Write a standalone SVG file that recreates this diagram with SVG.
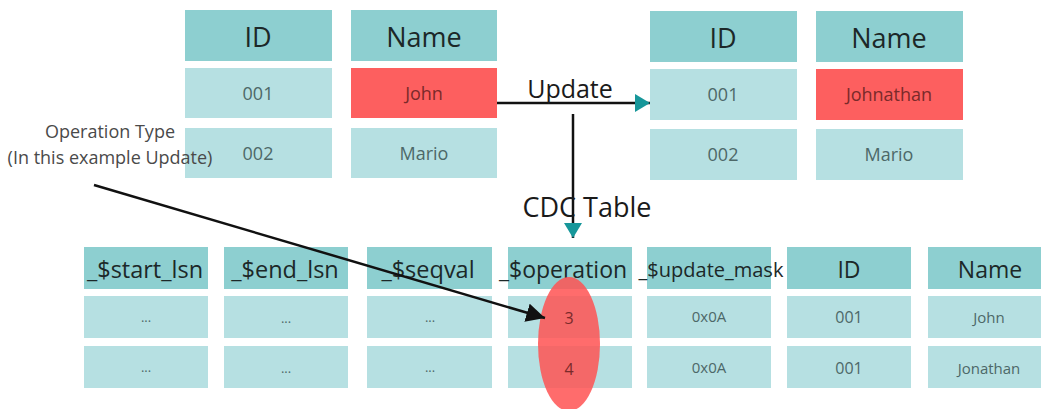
<svg xmlns="http://www.w3.org/2000/svg" width="1041" height="409" viewBox="0 0 1041 409">
  <style>
    .hd { fill: #8dcfd0; }
    .cell { fill: #b6e0e2; }
    .hot { fill: #fd5f5f; }
    .ht { font-family: "Open Sans", "Liberation Sans", sans-serif; fill: #1c2828; text-anchor: middle; }
    .ct { font-family: "Open Sans", "Liberation Sans", sans-serif; fill: #4d6868; text-anchor: middle; }
    .red { fill: #7a2a2a; }
    .lbl { font-family: "Open Sans", "Liberation Sans", sans-serif; fill: #1a1a1a; text-anchor: middle; }
    .note { font-family: "Open Sans", "Liberation Sans", sans-serif; fill: #4a4a4a; text-anchor: middle; font-size: 18px; }
    .line { stroke: #111; stroke-width: 2.5; fill: none; }
  </style>
  <defs>
    <marker id="tealHead" viewBox="0 0 10 12" refX="10" refY="6" markerWidth="6" markerHeight="7.2" orient="auto" markerUnits="strokeWidth">
      <path d="M0,0 L10,6 L0,12 Z" fill="#17979a"/>
    </marker>
    <marker id="blackHead" viewBox="0 0 10 10" refX="10" refY="5" markerWidth="7.5" markerHeight="7.5" orient="auto" markerUnits="strokeWidth">
      <path d="M0,0 L10,5 L0,10 Z" fill="#111"/>
    </marker>
  </defs>
  <rect width="1041" height="409" fill="#ffffff"/>

  <!-- source table -->
  <g id="source-table">
    <rect class="hd" x="185" y="10" width="147" height="51"/>
    <rect class="hd" x="351" y="10" width="146" height="51"/>
    <rect class="cell" x="185" y="68" width="147" height="50"/>
    <rect class="hot" x="351" y="68" width="146" height="50"/>
    <rect class="cell" x="185" y="128" width="147" height="50"/>
    <rect class="cell" x="351" y="128" width="146" height="50"/>
    <text class="ht" x="258" y="47" font-size="27">ID</text>
    <text class="ht" x="424" y="47" font-size="27">Name</text>
    <text class="ct" x="258" y="100" font-size="18">001</text>
    <text class="ct red" x="424" y="100" font-size="18">John</text>
    <text class="ct" x="258" y="160" font-size="18">002</text>
    <text class="ct" x="424" y="160" font-size="18">Mario</text>
  </g>

  <!-- updated table -->
  <g id="target-table">
    <rect class="hd" x="650" y="11" width="147" height="51"/>
    <rect class="hd" x="816" y="11" width="147" height="51"/>
    <rect class="cell" x="650" y="69" width="147" height="51"/>
    <rect class="hot" x="816" y="69" width="147" height="51"/>
    <rect class="cell" x="650" y="129" width="147" height="51"/>
    <rect class="cell" x="816" y="129" width="147" height="51"/>
    <text class="ht" x="723" y="48" font-size="27">ID</text>
    <text class="ht" x="889" y="48" font-size="27">Name</text>
    <text class="ct" x="723" y="101" font-size="18">001</text>
    <text class="ct red" x="889" y="101" font-size="18">Johnathan</text>
    <text class="ct" x="723" y="161" font-size="18">002</text>
    <text class="ct" x="889" y="161" font-size="18">Mario</text>
  </g>

  <!-- CDC change table -->
  <g id="cdc-table">
    <g id="col-start-lsn">
      <rect class="hd" x="84" y="247" width="124" height="42"/>
      <rect class="cell" x="84" y="296" width="124" height="42"/>
      <rect class="cell" x="84" y="346" width="124" height="42"/>
      <text class="ht" x="145" y="278" font-size="23.5">_$start_lsn</text>
      <text class="ct" x="146" y="322" font-size="13">...</text>
      <text class="ct" x="146" y="372" font-size="13">...</text>
    </g>
    <g id="col-end-lsn">
      <rect class="hd" x="224" y="247" width="124" height="42"/>
      <rect class="cell" x="224" y="296" width="124" height="42"/>
      <rect class="cell" x="224" y="346" width="124" height="42"/>
      <text class="ht" x="285" y="278" font-size="23.5">_$end_lsn</text>
      <text class="ct" x="286" y="323" font-size="13">...</text>
      <text class="ct" x="286" y="373" font-size="13">...</text>
    </g>
    <g id="col-seqval">
      <rect class="hd" x="367" y="247" width="125" height="42"/>
      <rect class="cell" x="367" y="296" width="125" height="42"/>
      <rect class="cell" x="367" y="346" width="125" height="42"/>
      <text class="ht" x="428" y="278" font-size="23.5">_$seqval</text>
      <text class="ct" x="430" y="322" font-size="13">...</text>
      <text class="ct" x="430" y="372" font-size="13">...</text>
    </g>
    <g id="col-operation">
      <rect class="hd" x="508" y="247" width="124" height="42"/>
      <rect class="cell" x="508" y="296" width="124" height="42"/>
      <rect class="cell" x="508" y="346" width="124" height="42"/>
      <text class="ht" x="563" y="278" font-size="23">_$operation</text>
    </g>
    <g id="col-update-mask">
      <rect class="hd" x="647" y="247" width="124" height="42"/>
      <rect class="cell" x="647" y="296" width="124" height="42"/>
      <rect class="cell" x="647" y="346" width="124" height="42"/>
      <text class="ht" x="711" y="277" font-size="20">_$update_mask</text>
      <text class="ct" x="709" y="322" font-size="15">0x0A</text>
      <text class="ct" x="709" y="373" font-size="15">0x0A</text>
    </g>
    <g id="col-id">
      <rect class="hd" x="787" y="247" width="124" height="42"/>
      <rect class="cell" x="787" y="296" width="124" height="42"/>
      <rect class="cell" x="787" y="346" width="124" height="42"/>
      <text class="ht" x="849" y="278" font-size="23">ID</text>
      <text class="ct" x="849" y="323" font-size="16">001</text>
      <text class="ct" x="849" y="374" font-size="16">001</text>
    </g>
    <g id="col-name">
      <rect class="hd" x="928" y="247" width="124" height="42"/>
      <rect class="cell" x="928" y="296" width="124" height="42"/>
      <rect class="cell" x="928" y="346" width="124" height="42"/>
      <text class="ht" x="990" y="278" font-size="23">Name</text>
      <text class="ct" x="989" y="323" font-size="15">John</text>
      <text class="ct" x="989" y="374" font-size="15">Jonathan</text>
    </g>
  </g>

  <!-- highlight over the operation values -->
  <g id="operation-highlight">
    <ellipse cx="569" cy="344" rx="31" ry="67" fill="#ff5252" fill-opacity="0.85"/>
    <text class="ct red" x="569" y="324" font-size="16">3</text>
    <text class="ct red" x="569" y="375" font-size="16">4</text>
  </g>

  <!-- annotation -->
  <g id="operation-note">
    <text class="note" x="110" y="138">Operation Type</text>
    <text class="note" x="110" y="164">(In this example Update)</text>
  </g>

  <!-- connectors -->
  <g id="connectors">
    <line class="line" x1="497" y1="103" x2="650" y2="103" marker-end="url(#tealHead)"/>
    <line class="line" x1="573" y1="114" x2="573" y2="238" marker-end="url(#tealHead)"/>
    <line class="line" x1="94" y1="185" x2="545" y2="318" marker-end="url(#blackHead)"/>
    <text class="lbl" x="570" y="98" font-size="25">Update</text>
    <text class="lbl" x="587" y="217" font-size="27">CDC Table</text>
  </g>
</svg>
